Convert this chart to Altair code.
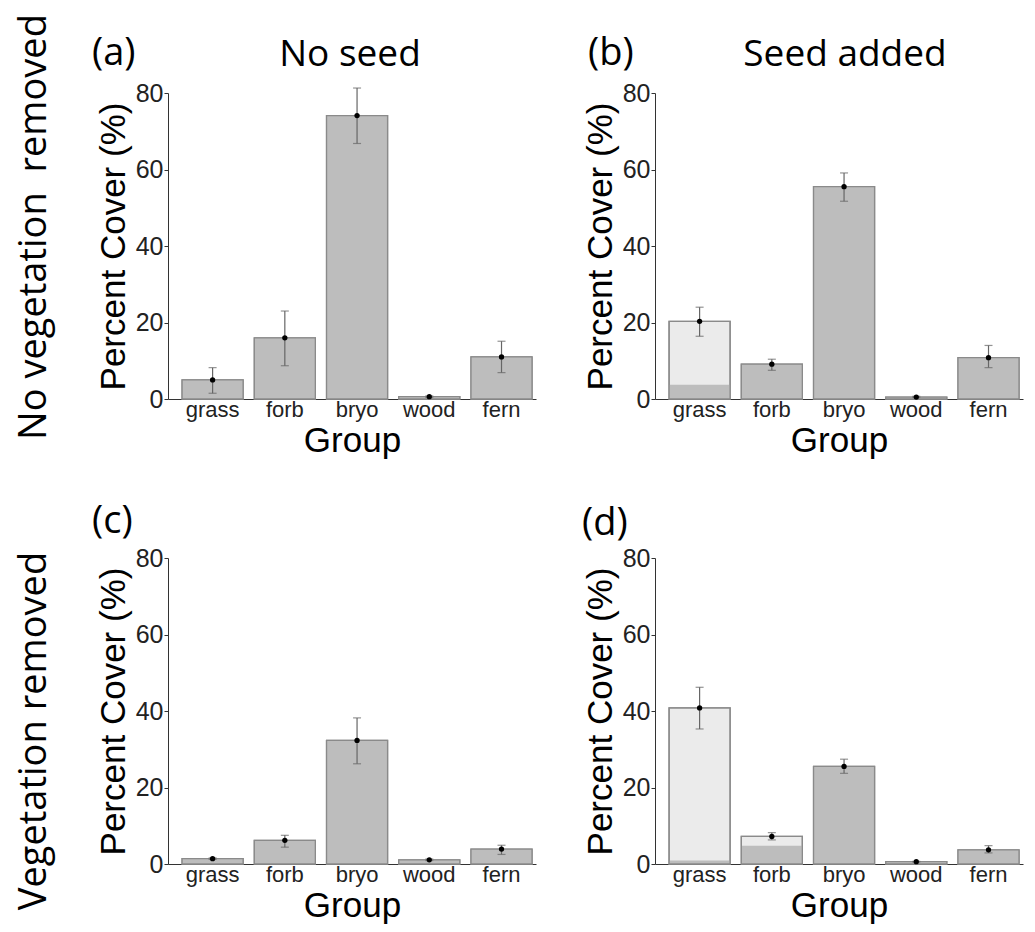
import altair as alt
import pandas as pd

groups = ["grass", "forb", "bryo", "wood", "fern"]

# panel (a): no vegetation removed, no seed
a_total = [5.0, 16.0, 74.1, 0.6, 11.0]
a_native = [5.0, 16.0, 74.1, 0.6, 11.0]
a_lo = [1.5, 8.7, 66.8, 0.4, 6.9]
a_hi = [8.2, 23.0, 81.3, 0.8, 15.1]

# panel (b): no vegetation removed, seed added
b_total = [20.3, 9.1, 55.5, 0.5, 10.8]
b_native = [3.7, 9.1, 55.5, 0.5, 10.8]
b_lo = [16.4, 7.5, 51.7, 0.4, 8.2]
b_hi = [24.0, 10.4, 59.1, 0.7, 14.0]

# panel (c): vegetation removed, no seed
c_total = [1.4, 6.2, 32.3, 1.1, 3.9]
c_native = [1.4, 6.2, 32.3, 1.1, 3.9]
c_lo = [1.2, 4.4, 26.2, 0.9, 2.5]
c_hi = [1.6, 7.5, 38.2, 1.3, 4.9]

# panel (d): vegetation removed, seed added
d_total = [40.8, 7.2, 25.5, 0.6, 3.7]
d_native = [0.9, 4.8, 25.5, 0.6, 3.7]
d_lo = [35.3, 6.3, 23.7, 0.5, 2.9]
d_hi = [46.2, 8.2, 27.4, 0.7, 4.8]

panel_labels = ["(a)", "(b)", "(c)", "(d)"]
col_titles = ["No seed", "Seed added"]
row_titles = ["No vegetation\u00a0 removed", "Vegetation removed"]
y_ticks = [0, 20, 40, 60, 80]

W, H = 368, 306
DARK = "#bdbdbd"
LIGHT = "#ebebeb"
EDGE = "#8a8a8a"
HEAD_FONT = "Open Sans"
AX_FONT = "Liberation Sans"


def text_layer(txt, x, y, size, align="left", angle=0, baseline="alphabetic", font=HEAD_FONT):
    return alt.Chart(pd.DataFrame({"t": [txt]})).mark_text(
        align=align, baseline=baseline, fontSize=size, font=font, angle=angle, color="#000"
    ).encode(x=alt.value(x), y=alt.value(y), text="t:N")


def panel(total, native, lo, hi, label, lab_x, lab_y, heading=None, head_x=0, row=None, row_y=0):
    df = pd.DataFrame({"group": groups, "total": total, "native": native, "lo": lo, "hi": hi})
    xscale = alt.Scale(paddingInner=0.155, paddingOuter=0.125, align=0.78)
    yscale = alt.Scale(domain=[0, 80], nice=False)
    xax = alt.Axis(title="Group", labelAngle=0, ticks=False, tickSize=0, labelPadding=0,
                   titlePadding=3, labelFontSize=22, titleFontSize=35, domainColor="#333",
                   labelColor="#222", titleColor="#000", titleFontWeight="normal",
                   labelFont=AX_FONT, titleFont=AX_FONT, grid=False)
    yax = alt.Axis(title="Percent Cover (%)", values=y_ticks, grid=False, tickSize=4,
                   labelPadding=1, titlePadding=4, labelFontSize=25, titleFontSize=35,
                   domainColor="#333", tickColor="#333", labelColor="#222", titleColor="#000",
                   titleFontWeight="normal", labelFont=AX_FONT, titleFont=AX_FONT)
    base = alt.Chart(df)
    X = alt.X("group:N", sort=groups, scale=xscale, axis=xax)

    def Y(field):
        return alt.Y(field, scale=yscale, axis=yax)

    l1 = base.mark_bar(fill=LIGHT, stroke=EDGE, strokeWidth=1.3).encode(x=X, y=Y("total:Q"))
    l2 = base.mark_bar(fill=DARK, strokeWidth=0).encode(x=X, y=Y("native:Q"))
    l3 = base.mark_bar(fillOpacity=0, stroke=EDGE, strokeWidth=1.3).encode(x=X, y=Y("total:Q"))
    err = base.mark_rule(color="#666", strokeWidth=1.2).encode(x=X, y=Y("lo:Q"), y2="hi:Q")
    cap_lo = base.mark_tick(color="#666", size=8, thickness=1.2).encode(x=X, y=Y("lo:Q"))
    cap_hi = base.mark_tick(color="#666", size=8, thickness=1.2).encode(x=X, y=Y("hi:Q"))
    dot = base.mark_circle(color="#000", size=28, opacity=1).encode(x=X, y=Y("total:Q"))
    layers = [l1, l2, l3, err, cap_lo, cap_hi, dot,
              text_layer(label, lab_x, lab_y, 38)]
    if heading is not None:
        layers.append(text_layer(heading, head_x, -27, 37, align="center"))
    if row is not None:
        layers.append(text_layer(row, -133, row_y, 38, align="center", angle=270, baseline="middle"))
    return alt.layer(*layers).properties(width=W, height=H)


pa = panel(a_total, a_native, a_lo, a_hi, panel_labels[0], -76, -28,
           heading=col_titles[0], head_x=182, row=row_titles[0], row_y=134)
pb = panel(b_total, b_native, b_lo, b_hi, panel_labels[1], -67, -28,
           heading=col_titles[1], head_x=190)
pc = panel(c_total, c_native, c_lo, c_hi, panel_labels[2], -76, -25,
           row=row_titles[1], row_y=173)
pd_ = panel(d_total, d_native, d_lo, d_hi, panel_labels[3], -73, -23)

chart = alt.concat(pa, pb, pc, pd_, columns=2, spacing={"row": 159, "column": 119},
                   bounds="flush").properties(
    padding={"left": 8, "top": 6, "right": 2, "bottom": 5},
    background="white",
).configure_view(strokeWidth=0)

chart.save("out.html", embed_options={"renderer": "svg", "actions": False})
